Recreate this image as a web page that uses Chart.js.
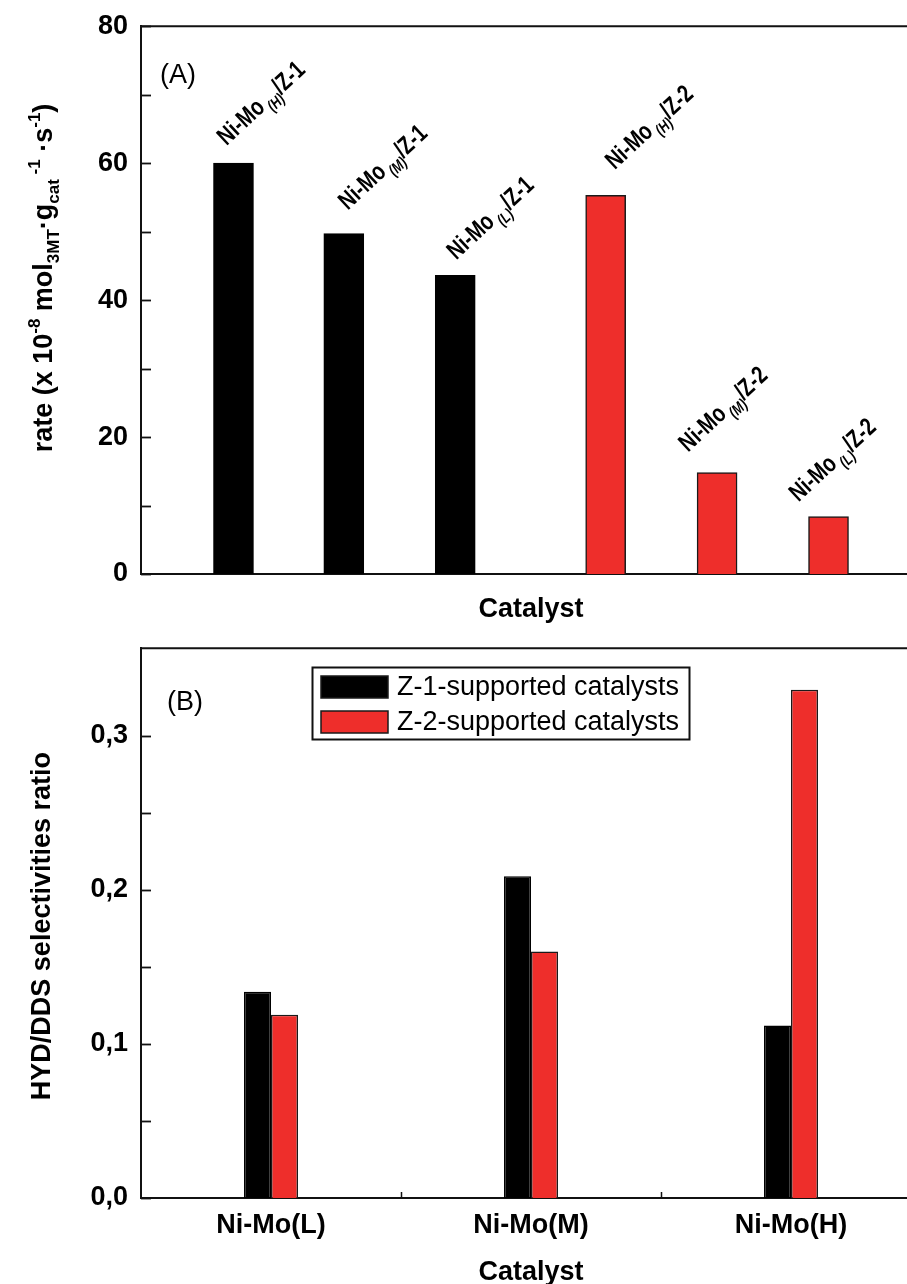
<!DOCTYPE html>
<html><head><meta charset="utf-8">
<script src="https://cdn.jsdelivr.net/npm/chart.js@4.4.1/dist/chart.umd.min.js"></script>
<style>
html,body{margin:0;padding:0;background:#fff;overflow:hidden;width:907px;height:1284px;}
#wrap{position:relative;width:907px;height:1284px;overflow:hidden;background:#fff;}
canvas{position:absolute;left:0;}
#cA{top:-3px;}
#cB{top:619px;}
</style></head><body>
<div id="wrap"><canvas id="cA" width="960" height="643"></canvas><canvas id="cB" width="960" height="665"></canvas></div>
<script>
// ---------- data ----------
const rateXPositions = [0.83, 1.82, 2.82, 4.17, 5.17, 6.17];
const rateValues     = [60.0, 49.7, 43.6, 55.3, 14.8, 8.4];
const rateSupport    = ['Z-1', 'Z-1', 'Z-1', 'Z-2', 'Z-2', 'Z-2'];
const rateLoading    = ['(H)', '(M)', '(L)', '(H)', '(M)', '(L)'];
const rateYTickLabels = [0, 20, 40, 60, 80];

const selCategories = ['Ni-Mo(L)', 'Ni-Mo(M)', 'Ni-Mo(H)'];
const selZ1 = [0.134, 0.209, 0.112];
const selZ2 = [0.119, 0.160, 0.330];
const selYTickValues = [0, 0.1, 0.2, 0.3];
const selYTickLabels = ['0,0', '0,1', '0,2', '0,3'];

const seriesNames = ['Z-1-supported catalysts', 'Z-2-supported catalysts'];
const supports = ['Z-1', 'Z-2'];

// ---------- style ----------
const FAM = "'Liberation Sans', Arial, Helvetica, sans-serif";
const BLACK = '#000000';
const RED = '#EE2E2B';
const AXIS = '#111111';
const OFF_A = -3, OFF_B = 619;   // canvas offsets (page y)
const labelOffsets = [[-7,-17],[4,-23],[1,-15],[9,-25],[-29,-20],[-30,-14]];
const LABEL_ANGLE = 43;

function pointsFor(sup) {
  const out = [];
  rateXPositions.forEach((x, i) => { if (rateSupport[i] === sup) out.push({x: x, y: rateValues[i]}); });
  return out;
}

function isStep(v, step) {
  const r = v / step;
  return Math.abs(r - Math.round(r)) < 1e-6;
}

const frameTicks = (yStep, xBetween) => ({
  id: 'frameTicks',
  afterDraw(chart) {
    const {ctx, chartArea: a, scales} = chart;
    ctx.save();
    ctx.strokeStyle = AXIS;
    ctx.lineWidth = 2;
    ctx.beginPath(); ctx.moveTo(a.left - 1, a.top); ctx.lineTo(a.right + 1, a.top); ctx.stroke();
    ctx.lineWidth = 1.8;
    scales.y.ticks.forEach(t => {
      if (!isStep(t.value, yStep)) return;
      const y = Math.round(scales.y.getPixelForValue(t.value)) + 0.5;
      ctx.beginPath(); ctx.moveTo(a.left, y); ctx.lineTo(a.left + 10, y); ctx.stroke();
    });
    if (xBetween) {
      const n = chart.data.labels.length;
      ctx.lineWidth = 1.5;
      for (let i = 0; i < n - 1; i++) {
        const x = Math.round((scales.x.getPixelForValue(i) + scales.x.getPixelForValue(i + 1)) / 2) + 0.5;
        ctx.beginPath(); ctx.moveTo(x, a.bottom); ctx.lineTo(x, a.bottom - 6); ctx.stroke();
      }
    }
    ctx.restore();
  }
});

function drawPieces(ctx, pieces, cy, baseX) {
  const big = 'bold 27px ' + FAM, small = 'bold 17px ' + FAM;
  let total = 0;
  pieces.forEach(p => { ctx.font = p.k === 'n' ? big : small; p.w = ctx.measureText(p.t).width; total += p.w; });
  ctx.save();
  ctx.fillStyle = '#000';
  ctx.textBaseline = 'alphabetic';
  ctx.textAlign = 'left';
  ctx.translate(baseX, cy);
  ctx.rotate(-Math.PI / 2);
  let x = -total / 2;
  pieces.forEach(p => {
    ctx.font = p.k === 'n' ? big : small;
    const dy = p.k === 'sup' ? -12 : (p.k === 'sub' ? 7 : 0);
    ctx.fillText(p.t, x, dy);
    x += p.w;
  });
  ctx.restore();
}

const annotA = {
  id: 'annotA',
  afterDraw(chart) {
    const {ctx, chartArea: a, scales} = chart;
    const Y = v => v - OFF_A;
    ctx.save();
    ctx.fillStyle = '#000';
    ctx.font = '27px ' + FAM;
    ctx.textBaseline = 'middle';
    ctx.textAlign = 'left';
    ctx.fillText('(A)', a.left + 19, Y(76));
    ctx.font = 'bold 27px ' + FAM;
    ctx.textAlign = 'center';
    ctx.textBaseline = 'alphabetic';
    ctx.fillText('Catalyst', (a.left + a.right) / 2, Y(617));
    rateXPositions.forEach((xv, i) => {
      const px = scales.x.getPixelForValue(xv) + labelOffsets[i][0];
      const py = scales.y.getPixelForValue(rateValues[i]) + labelOffsets[i][1];
      ctx.save();
      ctx.translate(px, py);
      ctx.rotate(-LABEL_ANGLE * Math.PI / 180);
      ctx.scale(0.78, 1);
      ctx.textAlign = 'left';
      ctx.textBaseline = 'alphabetic';
      let cx = 0;
      ctx.font = 'bold 25px ' + FAM;
      ctx.fillText('Ni-Mo', 0, 0);
      cx += ctx.measureText('Ni-Mo').width + 4;
      ctx.font = 'italic bold 16px ' + FAM;
      ctx.fillText(rateLoading[i], cx, 7);
      cx += ctx.measureText(rateLoading[i]).width;
      ctx.font = 'bold 25px ' + FAM;
      ctx.fillText('/' + rateSupport[i], cx, 0);
      ctx.restore();
    });
    ctx.restore();
    drawPieces(ctx, [
      {t: 'rate (x 10', k: 'n'}, {t: '-8', k: 'sup'}, {t: ' mol', k: 'n'}, {t: '3MT', k: 'sub'},
      {t: '·g', k: 'n'}, {t: 'cat', k: 'sub'}, {t: ' -1', k: 'sup'}, {t: ' ·s', k: 'n'},
      {t: '-1', k: 'sup'}, {t: ')', k: 'n'}
    ], Y(278), 52);
  }
};

const annotB = {
  id: 'annotB',
  afterDraw(chart) {
    const {ctx, chartArea: a} = chart;
    const Y = v => v - OFF_B;
    ctx.save();
    ctx.fillStyle = '#000';
    ctx.font = '27px ' + FAM;
    ctx.textBaseline = 'middle';
    ctx.textAlign = 'left';
    ctx.fillText('(B)', a.left + 26, Y(703));
    ctx.font = 'bold 27px ' + FAM;
    ctx.textAlign = 'center';
    ctx.textBaseline = 'alphabetic';
    ctx.fillText('Catalyst', (a.left + a.right) / 2, Y(1280));
    // legend
    const lx = 312, ly = Y(667), lw = 377, lh = 72;
    ctx.lineWidth = 2;
    ctx.strokeStyle = AXIS;
    ctx.fillStyle = '#fff';
    ctx.fillRect(lx, ly, lw, lh);
    ctx.strokeRect(lx + 0.5, ly + 0.5, lw, lh);
    chart.data.datasets.forEach((ds, i) => {
      const sy = ly + 9 + i * 35;
      ctx.fillStyle = ds.backgroundColor;
      ctx.fillRect(lx + 9, sy, 67, 22);
      ctx.lineWidth = 1.5;
      ctx.strokeStyle = '#1a1a1a';
      ctx.strokeRect(lx + 9, sy, 67, 22);
      ctx.fillStyle = '#000';
      ctx.font = '27px ' + FAM;
      ctx.textAlign = 'left';
      ctx.textBaseline = 'middle';
      ctx.fillText(ds.label, lx + 85, sy + 12);
    });
    ctx.restore();
    drawPieces(ctx, [{t: 'HYD/DDS selectivities ratio', k: 'n'}], (a.top + a.bottom) / 2 + 3, 50);
  }
};

const commonY = {
  grid: {display: false, drawTicks: false},
  border: {display: true, color: AXIS, width: 2},
  afterFit(s) { s.width = 141; }
};

new Chart(document.getElementById('cA'), {
  type: 'bar',
  data: {
    datasets: supports.map((sup, k) => ({
      label: seriesNames[k],
      data: pointsFor(sup),
      backgroundColor: k === 0 ? BLACK : RED,
      borderColor: k === 0 ? BLACK : '#1a1a1a',
      borderWidth: 1.5,
      borderSkipped: 'bottom',
      barThickness: 40,
      grouped: false
    }))
  },
  options: {
    responsive: false, animation: false, devicePixelRatio: 1,
    layout: {padding: {left: 0, right: 39, top: 0, bottom: 0}},
    plugins: {legend: {display: false}, tooltip: {enabled: false}},
    scales: {
      x: {type: 'linear', min: 0, max: 7, offset: false, ticks: {display: false}, grid: {display: false, drawTicks: false, offset: false},
          border: {display: true, color: AXIS, width: 2}, afterFit(s) { s.height = 66; }},
      y: Object.assign({}, commonY, {
        min: 0, max: 80,
        ticks: {stepSize: 10, color: '#000', padding: 13, font: {family: FAM, size: 27, weight: 'bold'},
          callback: v => rateYTickLabels.includes(v) ? String(v) : ''}
      })
    }
  },
  plugins: [frameTicks(10, false), annotA]
});

new Chart(document.getElementById('cB'), {
  type: 'bar',
  data: {
    labels: selCategories,
    datasets: [
      {label: seriesNames[0], data: selZ1, backgroundColor: BLACK, borderColor: BLACK, borderWidth: 1.5, borderSkipped: 'bottom'},
      {label: seriesNames[1], data: selZ2, backgroundColor: RED, borderColor: '#1a1a1a', borderWidth: 1.5, borderSkipped: 'bottom'}
    ]
  },
  options: {
    responsive: false, animation: false, devicePixelRatio: 1,
    layout: {padding: {left: 0, right: 39, top: 0, bottom: 0}},
    datasets: {bar: {categoryPercentage: 0.2077, barPercentage: 1.0}},
    plugins: {legend: {display: false}, tooltip: {enabled: false}},
    scales: {
      x: {type: 'category', offset: true,
          ticks: {color: '#000', padding: 11, font: {family: FAM, size: 27, weight: 'bold'}},
          grid: {display: false, drawTicks: false},
          border: {display: true, color: AXIS, width: 2}, afterFit(s) { s.height = 86; }},
      y: Object.assign({}, commonY, {
        min: 0, max: 0.357,
        ticks: {stepSize: 0.05, color: '#000', padding: 13, font: {family: FAM, size: 27, weight: 'bold'},
          callback: v => { const i = selYTickValues.findIndex(t => Math.abs(t - v) < 1e-6); return i >= 0 ? selYTickLabels[i] : ''; }}
      })
    }
  },
  plugins: [frameTicks(0.05, true), annotB]
});
</script>
</body></html>
